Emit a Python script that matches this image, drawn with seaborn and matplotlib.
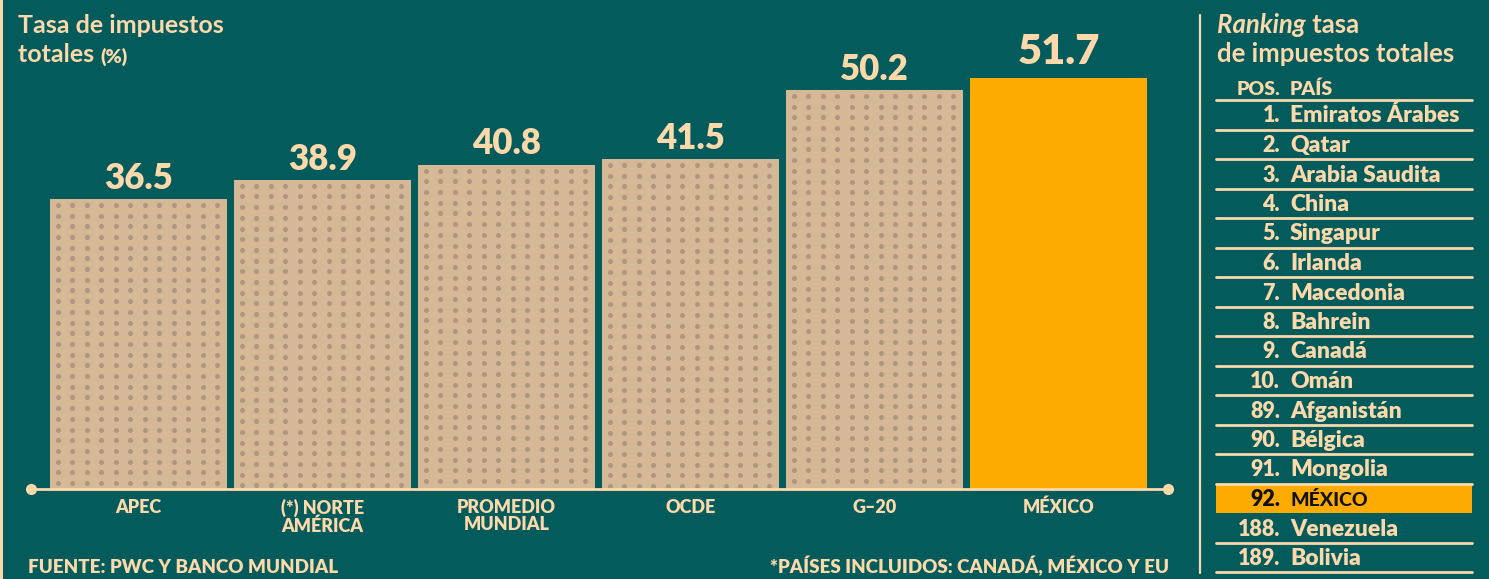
import numpy as np
import matplotlib
matplotlib.use("Agg")
import matplotlib.pyplot as plt
from matplotlib.patches import Rectangle
from matplotlib.lines import Line2D
import seaborn as sns

# ---------------- data ----------------
categories = ["APEC", "(*) NORTE\nAMÉRICA", "PROMEDIO\nMUNDIAL", "OCDE", "G–20", "MÉXICO"]
values = [36.5, 38.9, 40.8, 41.5, 50.2, 51.7]
value_labels = ["36.5", "38.9", "40.8", "41.5", "50.2", "51.7"]

rank_pos = ["1.", "2.", "3.", "4.", "5.", "6.", "7.", "8.", "9.", "10.",
            "89.", "90.", "91.", "92.", "188.", "189."]
rank_country = ["Emiratos Árabes", "Qatar", "Arabia Saudita", "China", "Singapur",
                "Irlanda", "Macedonia", "Bahrein", "Canadá", "Omán",
                "Afganistán", "Bélgica", "Mongolia", "MÉXICO", "Venezuela", "Bolivia"]
highlight_country = "MÉXICO"

title_lines = ["Tasa de impuestos", "totales"]
title_unit = "(%)"
source_text = "FUENTE: PWC Y BANCO MUNDIAL"
note_text = "*PAÍSES INCLUIDOS: CANADÁ, MÉXICO Y EU"

# ---------------- style ----------------
BG = "#035c5b"
PEACH = "#fdd8aa"
TAN = "#d5b896"
DOT = "#ae9781"
ORANGE = "#fdab00"
HEAVY = 800
TITLEW = 700

sns.set_theme(style="white")
plt.rcParams["font.family"] = ["Lato", "DejaVu Sans"]
plt.rcParams["font.weight"] = "bold"

W, H = 1489, 579
fig = plt.figure(figsize=(W / 100, H / 100), dpi=100, facecolor=BG)

# main bar axes (pixel layout)
ax_left, ax_right, base_y, top_y = 31, 1168, 489, 12
ax = fig.add_axes([ax_left / W, (H - base_y) / H, (ax_right - ax_left) / W, (base_y - top_y) / H])
ax.set_facecolor(BG)

colors = [ORANGE if c == "MÉXICO" else TAN for c in categories]
sns.barplot(x=categories, y=values, hue=categories, palette=colors, legend=False,
            saturation=1, width=0.962, ax=ax, edgecolor="none")

ax.set_xlim(-0.584, 5.595)
ax.set_ylim(0, 60)
for s in ["left", "right", "top"]:
    ax.spines[s].set_visible(False)
ax.spines["bottom"].set_color(PEACH)
ax.spines["bottom"].set_linewidth(2)
ax.spines["bottom"].set_zorder(5)
ax.set_yticks([])
ax.set_xlabel("")
ax.set_ylabel("")
ax.tick_params(axis="x", length=0, pad=7, colors=PEACH, labelsize=13)
for lab in ax.get_xticklabels():
    lab.set_fontweight(HEAVY)
    lab.set_multialignment("center")
    lab.set_linespacing(1.05)
    lab.set_va("top")

# axis end dots
ax.plot([0, 1], [0, 0], transform=ax.transAxes, marker="o", ms=7, color=PEACH,
        ls="none", clip_on=False, zorder=6)

# dotted texture on tan bars
px_per_x = (ax_right - ax_left) / (5.595 + 0.584)
px_per_y = (base_y - top_y) / 60.0
dx = 14.5 / px_per_x
dy = 10.7 / px_per_y
for patch, c in zip(ax.patches, categories):
    if c == "MÉXICO":
        continue
    x0 = patch.get_x()
    h = patch.get_height()
    xs = x0 + 8 / px_per_x + np.arange(12) * dx
    ys = h - 6 / px_per_y - np.arange(int(h / dy) + 1) * dy
    ys = ys[ys > 0.3]
    XX, YY = np.meshgrid(xs, ys)
    ax.scatter(XX.ravel(), YY.ravel(), s=13, color=DOT, linewidths=0, zorder=3)

# value labels
for i, (v, t) in enumerate(zip(values, value_labels)):
    big = categories[i] == "MÉXICO"
    ax.annotate(t, xy=(i, v), xytext=(0, 3 if not big else 5), textcoords="offset points",
                ha="center", va="bottom", color=PEACH, fontsize=30 if big else 25,
                fontweight=HEAVY)

# ---------------- overlay in pixel coordinates ----------------
ov = fig.add_axes([0, 0, 1, 1], zorder=10)
ov.set_xlim(0, W)
ov.set_ylim(H, 0)
ov.axis("off")
ov.patch.set_alpha(0)

# left border
ov.add_patch(Rectangle((0, 0), 3, H, color=PEACH, lw=0))
# divider
ov.add_line(Line2D([1200, 1200], [15, 573], color=PEACH, lw=1.6))

# left title
ov.text(18, 33, title_lines[0], color=PEACH, fontsize=18, fontweight=TITLEW, va="baseline")
t2 = ov.text(18, 62, title_lines[1] + " ", color=PEACH, fontsize=18, fontweight=TITLEW, va="baseline")
ov.annotate(title_unit, xy=(1, 0), xycoords=t2, va="bottom", ha="left",
            color=PEACH, fontsize=14, fontweight=HEAVY)

# footer
ov.text(28, 573, source_text, color=PEACH, fontsize=13.5, fontweight=HEAVY, va="baseline")
ov.text(1169, 573, note_text, color=PEACH, fontsize=13.5, fontweight=HEAVY, va="baseline", ha="right")

# right title
r1 = ov.text(1217, 33, "Ranking", color=PEACH, fontsize=18.5, fontstyle="italic",
             fontweight=TITLEW, va="baseline")
ov.annotate(" tasa", xy=(1, 0), xycoords=r1, va="bottom", ha="left",
            color=PEACH, fontsize=18.5, fontweight=TITLEW)
ov.text(1217, 62, "de impuestos totales", color=PEACH, fontsize=18.5, fontweight=TITLEW, va="baseline")

# table
tx0, tx1 = 1216, 1472
num_x, name_x = 1280, 1290
line0 = 100
pitch = 29.5
ov.text(num_x, 95, "POS.", color=PEACH, fontsize=14, fontweight=HEAVY, ha="right", va="baseline")
ov.text(name_x, 95, "PAÍS", color=PEACH, fontsize=14, fontweight=HEAVY, ha="left", va="baseline")
ov.add_line(Line2D([tx0, tx1], [line0, line0], color=PEACH, lw=2))

for k, (p, c) in enumerate(zip(rank_pos, rank_country)):
    ybot = line0 + pitch * (k + 1)
    ytop = ybot - pitch
    if c == highlight_country:
        ov.add_patch(Rectangle((tx0, ytop + 1.5), tx1 - tx0, pitch - 2, color=ORANGE, lw=0))
        col = "#111111"
        ov.text(num_x, ybot - 7, p, color=col, fontsize=15.5, fontweight=HEAVY, ha="right", va="baseline")
        ov.text(name_x, ybot - 7, c, color=col, fontsize=14, fontweight=900, ha="left", va="baseline")
    else:
        col = PEACH
        ov.text(num_x, ybot - 7, p, color=col, fontsize=15.5, fontweight=HEAVY, ha="right", va="baseline")
        ov.text(name_x, ybot - 7, c, color=col, fontsize=16.5, fontweight=HEAVY, ha="left", va="baseline")
        ov.add_line(Line2D([tx0, tx1], [ybot, ybot], color=PEACH, lw=2))

fig.savefig("out.png", dpi=100, facecolor=BG)
